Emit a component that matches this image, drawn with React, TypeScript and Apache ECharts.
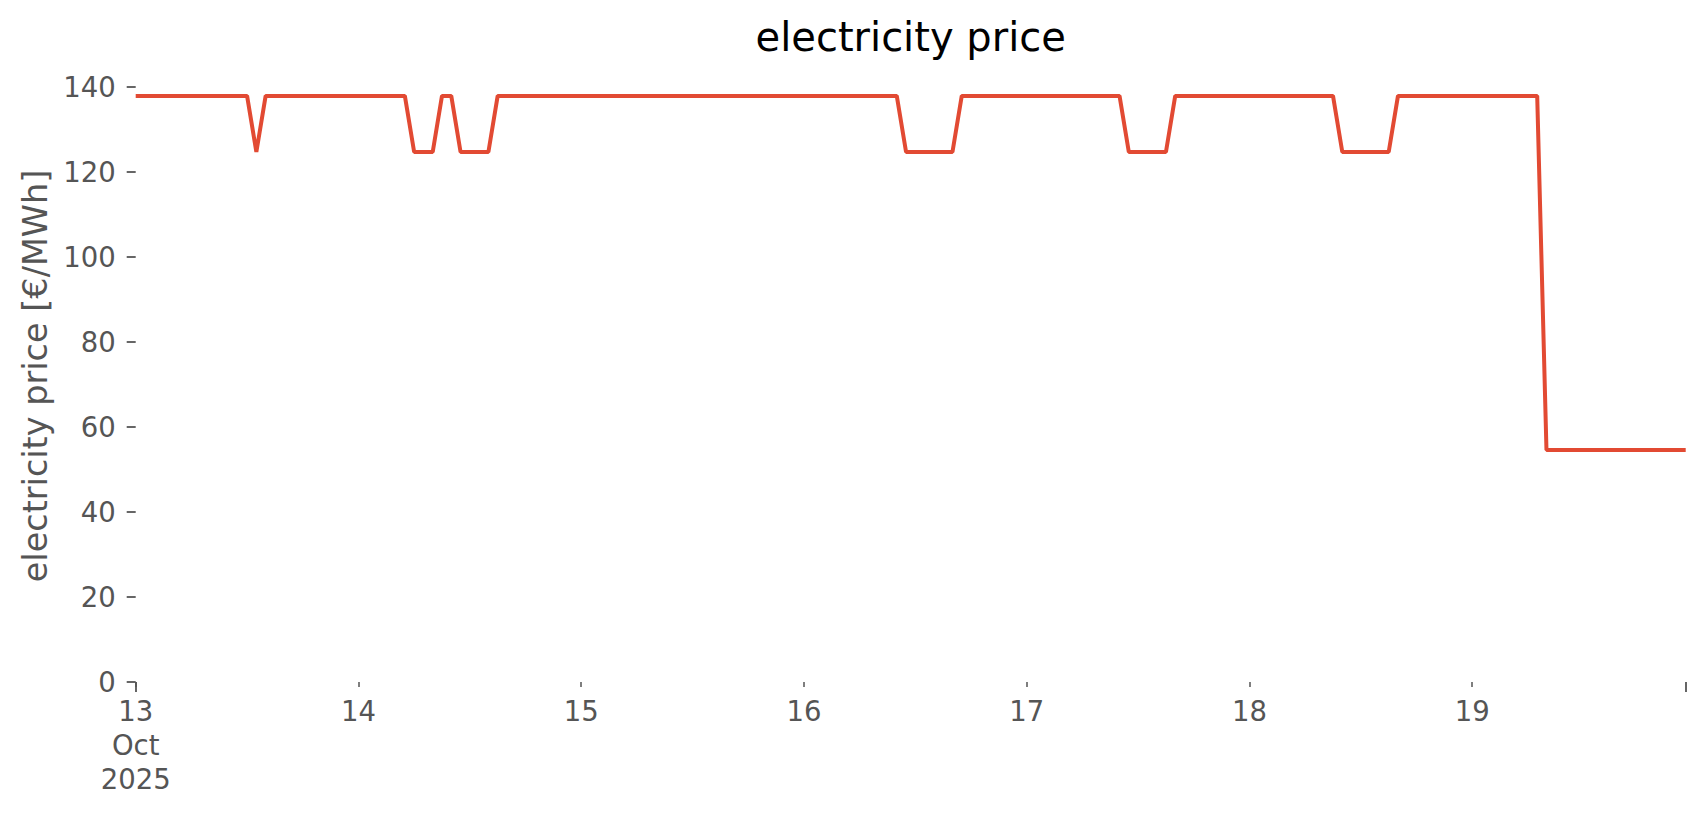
import React, { useEffect, useRef } from "react";
import * as echarts from "echarts";

// x axis: hours since 13 Oct 2025 00:00 (hourly prices, 13–19 Oct)
const dayTickHours = [0, 24, 48, 72, 96, 120, 144];
const dayTickLabels = ["13\nOct\n2025", "14", "15", "16", "17", "18", "19"];
const majorTickHours = [0, 167];
const yTickValues = [0, 20, 40, 60, 80, 100, 120, 140];

// electricity price [€/MWh], one value per hour
const priceDay13 = [
  137.9, 137.9, 137.9, 137.9, 137.9, 137.9, 137.9, 137.9, 137.9, 137.9, 137.9, 137.9,
  137.9, 124.7, 137.9, 137.9, 137.9, 137.9, 137.9, 137.9, 137.9, 137.9, 137.9, 137.9,
];
const priceDay14 = [
  137.9, 137.9, 137.9, 137.9, 137.9, 137.9, 124.7, 124.7, 124.7, 137.9, 137.9, 124.7,
  124.7, 124.7, 124.7, 137.9, 137.9, 137.9, 137.9, 137.9, 137.9, 137.9, 137.9, 137.9,
];
const priceDay15 = [
  137.9, 137.9, 137.9, 137.9, 137.9, 137.9, 137.9, 137.9, 137.9, 137.9, 137.9, 137.9,
  137.9, 137.9, 137.9, 137.9, 137.9, 137.9, 137.9, 137.9, 137.9, 137.9, 137.9, 137.9,
];
const priceDay16 = [
  137.9, 137.9, 137.9, 137.9, 137.9, 137.9, 137.9, 137.9, 137.9, 137.9, 137.9, 124.7,
  124.7, 124.7, 124.7, 124.7, 124.7, 137.9, 137.9, 137.9, 137.9, 137.9, 137.9, 137.9,
];
const priceDay17 = [
  137.9, 137.9, 137.9, 137.9, 137.9, 137.9, 137.9, 137.9, 137.9, 137.9, 137.9, 124.7,
  124.7, 124.7, 124.7, 124.7, 137.9, 137.9, 137.9, 137.9, 137.9, 137.9, 137.9, 137.9,
];
const priceDay18 = [
  137.9, 137.9, 137.9, 137.9, 137.9, 137.9, 137.9, 137.9, 137.9, 137.9, 124.7, 124.7,
  124.7, 124.7, 124.7, 124.7, 137.9, 137.9, 137.9, 137.9, 137.9, 137.9, 137.9, 137.9,
];
const priceDay19 = [
  137.9, 137.9, 137.9, 137.9, 137.9, 137.9, 137.9, 137.9, 54.6, 54.6, 54.6, 54.6,
  54.6, 54.6, 54.6, 54.6, 54.6, 54.6, 54.6, 54.6, 54.6, 54.6, 54.6, 54.6,
];

const prices = [
  ...priceDay13,
  ...priceDay14,
  ...priceDay15,
  ...priceDay16,
  ...priceDay17,
  ...priceDay18,
  ...priceDay19,
];

const FONT = "DejaVu Sans";
const GRAY = "#555555";

export default function App() {
  const ref = useRef<HTMLDivElement>(null);

  useEffect(() => {
    if (!ref.current) return;
    const chart = echarts.init(ref.current, undefined, { renderer: "svg" });
    const gridBox = { left: 135.7, top: 70, width: 1550, height: 612 };
    const lastHour = prices.length - 1;

    chart.setOption({
      animation: false,
      backgroundColor: "#ffffff",
      graphic: [
        {
          type: "text",
          x: gridBox.left + gridBox.width / 2,
          y: 37,
          style: {
            text: "electricity price",
            fontSize: 40,
            fontFamily: FONT,
            fill: "#000000",
            align: "center",
            verticalAlign: "middle",
            textAlign: "center",
            textVerticalAlign: "middle",
          },
        },
      ],
      grid: [
        { ...gridBox, containLabel: false },
        { ...gridBox, containLabel: false },
      ],
      xAxis: [
        {
          type: "value",
          gridIndex: 0,
          min: 0,
          max: lastHour,
          axisLine: { show: false },
          splitLine: { show: false },
          axisTick: {
            show: true,
            customValues: dayTickHours,
            length: 5,
            lineStyle: { color: GRAY, width: 1.5 },
          },
          axisLabel: {
            customValues: dayTickHours,
            formatter: (v: number) => {
              const i = dayTickHours.indexOf(v);
              return i >= 0 ? dayTickLabels[i] : "";
            },
            color: GRAY,
            fontSize: 27.5,
            fontFamily: FONT,
            lineHeight: 34,
            margin: 12,
          },
        },
        {
          type: "value",
          gridIndex: 1,
          min: 0,
          max: lastHour,
          axisLine: { show: false },
          splitLine: { show: false },
          axisTick: {
            show: true,
            customValues: majorTickHours,
            length: 10,
            lineStyle: { color: GRAY, width: 1.8 },
          },
          axisLabel: { show: false },
        },
      ],
      yAxis: [
        {
          type: "value",
          gridIndex: 0,
          min: 0,
          max: 144,
          axisLine: { show: false },
          splitLine: { show: false },
          axisTick: {
            show: true,
            customValues: yTickValues,
            length: 9,
            lineStyle: { color: GRAY, width: 1.8 },
          },
          axisLabel: {
            customValues: yTickValues,
            color: GRAY,
            fontSize: 27.5,
            fontFamily: FONT,
            margin: 20,
          },
          name: "electricity price [€/MWh]",
          nameLocation: "middle",
          nameGap: 82,
          nameTextStyle: { fontSize: 33.5, color: GRAY, fontFamily: FONT },
        },
        {
          type: "value",
          gridIndex: 1,
          min: 0,
          max: 144,
          show: false,
        },
      ],
      series: [
        {
          type: "line",
          xAxisIndex: 0,
          yAxisIndex: 0,
          data: prices.map((v, i) => [i, v]),
          showSymbol: false,
          symbol: "none",
          lineStyle: { color: "#E24A33", width: 4 },
          itemStyle: { color: "#E24A33" },
        },
      ],
    });

    return () => chart.dispose();
  }, []);

  return (
    <div
      ref={ref}
      style={{ position: "fixed", left: 0, top: 0, width: 1706, height: 815, background: "#fff" }}
    />
  );
}
